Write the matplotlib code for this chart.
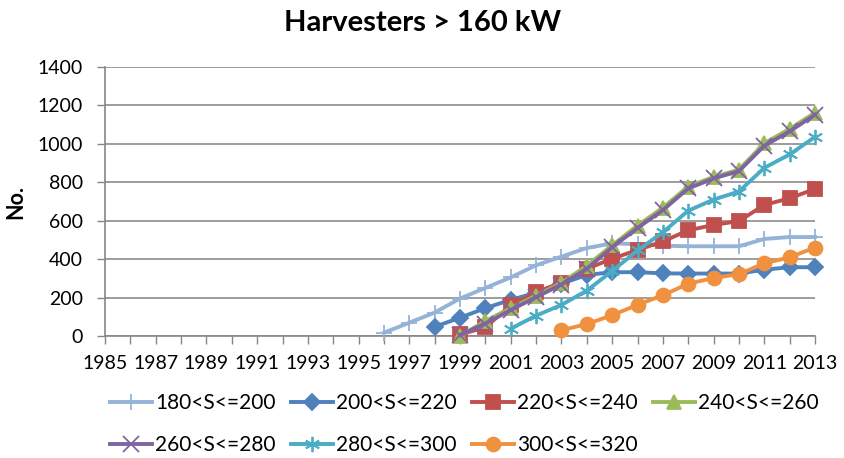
import matplotlib
matplotlib.use("Agg")
import matplotlib.pyplot as plt

plt.rcParams['font.family'] = ['Lato', 'DejaVu Sans']

years = list(range(1985, 2014))

# series values, each with the years it covers
s180_years = list(range(1996, 2014))
s180 = [17, 69, 122, 195, 250, 305, 368, 413, 458, 482, 478, 470, 467, 467, 467, 505, 515, 515]

s200_years = list(range(1998, 2014))
s200 = [48, 95, 145, 188, 225, 272, 318, 332, 332, 326, 325, 325, 325, 345, 358, 358]

s220_years = list(range(1999, 2014))
s220 = [8, 45, 160, 228, 278, 350, 402, 448, 492, 550, 578, 598, 682, 717, 765]

s240_years = list(range(1999, 2014))
s240 = [0, 78, 145, 210, 276, 366, 472, 575, 668, 778, 828, 866, 1003, 1078, 1162]

s260_years = list(range(1999, 2014))
s260 = [5, 65, 135, 202, 268, 350, 462, 562, 655, 768, 820, 858, 990, 1065, 1152]

s280_years = list(range(2001, 2014))
s280 = [38, 106, 162, 236, 338, 445, 540, 652, 710, 752, 875, 945, 1036]

s300_years = list(range(2003, 2014))
s300 = [30, 62, 108, 162, 212, 272, 302, 322, 378, 410, 460]

labels = ["180<S<=200", "200<S<=220", "220<S<=240", "240<S<=260",
          "260<S<=280", "280<S<=300", "300<S<=320"]
colors = ["#95B3D7", "#4F81BD", "#C0504D", "#9BBB59", "#8064A2", "#4BACC6", "#F0913F"]
markers = ["+", "D", "s", "^", "x", (6, 2, 0), "o"]
msizes = [12, 8, 10, 10, 11, 11, 10]

series = [(s180_years, s180), (s200_years, s200), (s220_years, s220), (s240_years, s240),
          (s260_years, s260), (s280_years, s280), (s300_years, s300)]

fig = plt.figure(figsize=(8.45, 4.58), dpi=100)
ax = fig.add_axes([105 / 845, 1 - 336 / 458, 710 / 845, 269 / 458])

handles = []
for (xs, ys), lab, c, m, ms in zip(series, labels, colors, markers, msizes):
    h, = ax.plot(xs, ys, color=c, lw=2.8, marker=m, markersize=ms, markeredgewidth=1.3,
                 markeredgecolor=c, markerfacecolor=c, label=lab, clip_on=False, zorder=3)
    handles.append(h)

ax.set_xlim(1985, 2013)
ax.set_ylim(0, 1400)
ax.set_yticks(range(0, 1401, 200))
ax.set_xticks(years, minor=True)
ax.set_xticks(years[::2])
ax.tick_params(axis='x', which='both', length=6, width=1, color='#868686', labelsize=14, pad=8)
ax.tick_params(axis='y', length=6, width=1, color='#868686', labelsize=14, pad=10)
ax.grid(axis='y', color='#8c8c8c', lw=1.2)
ax.set_axisbelow(True)
for s in ['top', 'right']:
    ax.spines[s].set_visible(False)
ax.spines['left'].set_color('#868686')
ax.spines['bottom'].set_color('#868686')
ax.spines['left'].set_linewidth(1.2)
ax.spines['bottom'].set_linewidth(1.2)

ax.set_ylabel("No.", fontsize=15.5, fontweight='bold', labelpad=8)
fig.suptitle("Harvesters > 160 kW", fontsize=21, fontweight='bold', x=0.5, y=0.978)

order = [0, 4, 1, 5, 2, 6, 3]
fig.legend([handles[i] for i in order], [labels[i] for i in order],
           loc='upper left', bbox_to_anchor=(110 / 845, 1 - 393 / 458), ncol=4,
           frameon=False, fontsize=15, handlelength=2.0, handletextpad=0.15,
           columnspacing=0.75, labelspacing=1.05, borderpad=0, borderaxespad=0)

fig.savefig("out.png", dpi=100)
